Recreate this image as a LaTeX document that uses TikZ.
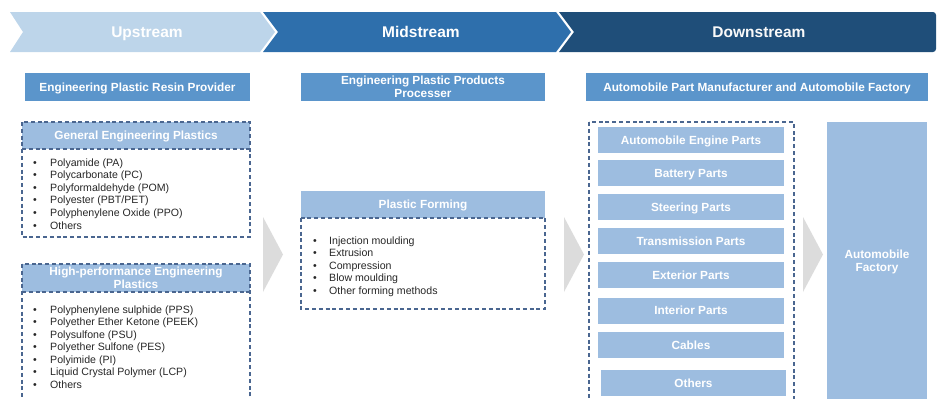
\documentclass[tikz,border=0pt]{standalone}
\usepackage{fontspec}
\setmainfont{Liberation Sans}
\definecolor{upc}{HTML}{BDD5EA}
\definecolor{midc}{HTML}{2E6FAC}
\definecolor{downc}{HTML}{1F4E79}
\definecolor{hdrc}{HTML}{5B95CB}
\definecolor{lightc}{HTML}{9DBDE0}
\definecolor{arrc}{HTML}{DCDCDC}
\definecolor{dashc}{HTML}{4A6690}
\definecolor{txtc}{HTML}{262626}
\begin{document}
\begin{tikzpicture}[x=1pt,y=-1pt,
  bannertxt/.style={text=white,font=\bfseries\fontsize{15.5}{18}\selectfont,inner sep=0,text height=11.1pt,text depth=0pt},
  hdr/.style={fill=hdrc,text=white,font=\bfseries\fontsize{11.8}{13}\selectfont,inner sep=0,outer sep=0,align=center},
  lbox/.style={fill=lightc,text=white,font=\bfseries\fontsize{11.8}{13}\selectfont,inner sep=0,outer sep=0,align=center},
  oneline/.style={text height=8.4pt,text depth=0pt},
  item/.style={anchor=base west,inner sep=0,text=txtc,font=\fontsize{10.6}{12.7}\selectfont},
  dbox/.style={draw=dashc,dash pattern=on 4pt off 2.8pt,line width=1.2pt},
  grarrow/.style={fill=arrc}]
\useasboundingbox (0,0) rectangle (938,399);
% banners
\fill[upc] (10,12) -- (260,12) -- (275,32) -- (260,52) -- (10,52) -- (23,32) -- cycle;
\fill[midc] (263,12) -- (556,12) -- (571,32) -- (556,52) -- (263,52) -- (278,32) -- cycle;
\fill[downc] (559,12) {[rounded corners=3pt] -- (936,12) -- (936,52)} -- (559,52) -- (574,32) -- cycle;
\node[bannertxt] (up) at (147,32) {Upstream};
\node[bannertxt] (mid) at (421,32) {Midstream};
\node[bannertxt,text=white!95!gray] (down) at (759,32) {Downstream};
% column headers
\node[hdr,oneline,minimum width=225pt,minimum height=28pt] (prov) at (137.5,87) {Engineering Plastic Resin Provider};
\node[hdr,minimum width=244pt,minimum height=28pt] (proc) at (423,87) {Engineering Plastic Products\\Processer};
\node[hdr,oneline,minimum width=342pt,minimum height=28pt] (manu) at (757,87) {Automobile Part Manufacturer and Automobile Factory};
% general engineering plastics
\node[lbox,oneline,minimum width=228pt,minimum height=27pt] (gen) at (136,135.5) {General Engineering Plastics};
\draw[dbox] (gen.north west) rectangle (250,237);
\draw[dbox] (gen.south west) -- (gen.south east);
\foreach \t [count=\i] in {Polyamide (PA),Polycarbonate (PC),Polyformaldehyde (POM),Polyester (PBT/PET),Polyphenylene Oxide (PPO),Others}
  \node[item] (g\i) at (50,{166+12.65*(\i-1)}) {\llap{\makebox[17pt][l]{•}}\t};
% high performance
\node[lbox,minimum width=228pt,minimum height=28pt] (hp) at (136,278) {High-performance Engineering\\Plastics};
\draw[dbox] (hp.north west) rectangle (250,410);
\draw[dbox] (hp.south west) -- (hp.south east);
\foreach \t [count=\i] in {Polyphenylene sulphide (PPS),Polyether Ether Ketone (PEEK),Polysulfone (PSU),Polyether Sulfone (PES),Polyimide (PI),Liquid Crystal Polymer (LCP),Others}
  \node[item] (p\i) at (50,{313+12.5*(\i-1)}) {\llap{\makebox[17pt][l]{•}}\t};
% arrows
\fill[grarrow] (263,217) -- (283,254.5) -- (263,292) -- cycle;
\fill[grarrow] (564,217) -- (584,254.5) -- (564,292) -- cycle;
\fill[grarrow] (803,217) -- (823,254.5) -- (803,292) -- cycle;
% plastic forming
\node[lbox,oneline,minimum width=244pt,minimum height=27pt] (form) at (423,204.5) {Plastic Forming};
\draw[dbox] (form.south west) rectangle (545,309);
\foreach \t [count=\i] in {Injection moulding,Extrusion,Compression,Blow moulding,Other forming methods}
  \node[item] (f\i) at (329,{244+12.6*(\i-1)}) {\llap{\makebox[16pt][l]{•}}\t};
% downstream parts
\draw[dbox] (589,122) rectangle (794,410);
\foreach \t/\y [count=\i] in {Automobile Engine Parts/140,Battery Parts/173,Steering Parts/207,Transmission Parts/241,Exterior Parts/275,Interior Parts/310.5,Cables/345}
  \node[lbox,oneline,minimum width=186pt,minimum height=26pt] (a\i) at (691,\y) {\t};
\node[lbox,oneline,minimum width=185pt,minimum height=26pt] (a8) at (693.5,383) {Others};
% factory
\node[lbox,minimum width=100pt,minimum height=283pt,text depth=5pt] (fac) at (877,263.5) {Automobile\\Factory};
\end{tikzpicture}
\end{document}
